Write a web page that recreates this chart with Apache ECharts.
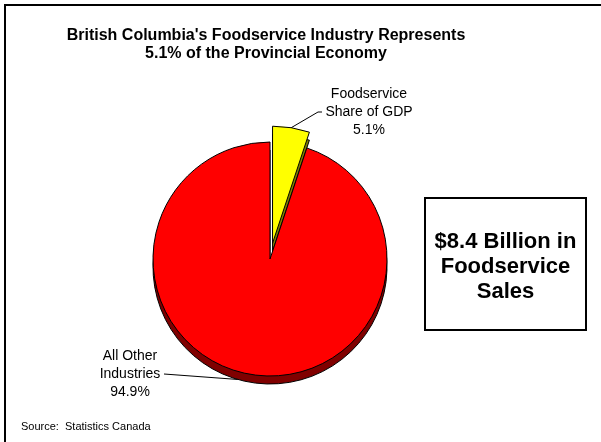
<!DOCTYPE html>
<html>
<head>
<meta charset="utf-8">
<script src="https://cdn.jsdelivr.net/npm/echarts@6/dist/echarts.min.js"></script>
<style>
  html, body { margin: 0; padding: 0; background: #fff; }
  #chart { width: 601px; height: 442px; }
</style>
</head>
<body>
<div id="chart"></div>
<script>
// Share of British Columbia's GDP (percent)
const categories = ['Foodservice\nShare of GDP', 'All Other\nIndustries'];
const shares = [5.1, 94.9];
const topColors = ['#ffff00', '#ff0000'];
const sideColors = ['#7f7f00', '#800000'];
const titleLines = ["British Columbia's Foodservice Industry Represents", '5.1% of the Provincial Economy'];
const calloutLines = ['$8.4 Billion in', 'Foodservice', 'Sales'];
const sourceNote = 'Source:  Statistics Canada';

const FONT = '"Liberation Sans", Arial, sans-serif';
const CX = 270, CY = 259, R = 117, DEPTH = 8, EXPLODE = 16;

function sliceData(colors) {
  return categories.map((name, i) => ({
    name: name,
    value: shares[i],
    selected: i === 0,
    itemStyle: { color: colors[i] }
  }));
}

const chart = echarts.init(document.getElementById('chart'), null, { renderer: 'canvas' });

const staticGraphics = [
  {
    type: 'rect',
    shape: { x: 5, y: 5, width: 700, height: 600 },
    style: { fill: null, stroke: '#000', lineWidth: 2 },
    silent: true,
    z: 100
  },
  {
    type: 'rect',
    shape: { x: 425, y: 198, width: 161, height: 132 },
    style: { fill: '#fff', stroke: '#000', lineWidth: 2 },
    silent: true,
    z: 10
  },
  {
    type: 'text',
    x: 505.5,
    y: 267,
    style: {
      text: calloutLines.join('\n'),
      font: 'bold 22px ' + FONT,
      lineHeight: 25,
      fill: '#000',
      align: 'center',
      verticalAlign: 'middle'
    },
    silent: true,
    z: 11
  },
  {
    type: 'text',
    x: 21,
    y: 427,
    style: {
      text: sourceNote,
      font: '11px ' + FONT,
      fill: '#000',
      align: 'left',
      verticalAlign: 'middle'
    },
    silent: true,
    z: 11
  }
];

chart.setOption({
  animation: false,
  backgroundColor: '#ffffff',
  title: {
    text: titleLines.join('\n'),
    left: 261,
    textAlign: 'center',
    top: 22,
    textStyle: {
      fontFamily: FONT,
      fontSize: 16,
      fontWeight: 'bold',
      color: '#000',
      lineHeight: 18
    }
  },
  graphic: staticGraphics,
  series: [
    {
      // extruded side of the pie
      type: 'pie',
      center: [CX, CY + DEPTH],
      radius: R,
      startAngle: 90,
      clockwise: true,
      selectedMode: 'single',
      selectedOffset: EXPLODE,
      silent: true,
      label: { show: false },
      labelLine: { show: false },
      itemStyle: { borderColor: '#000', borderWidth: 1 },
      emphasis: { disabled: true },
      data: sliceData(sideColors),
      z: 1
    },
    {
      type: 'pie',
      center: [CX, CY],
      radius: R,
      startAngle: 90,
      clockwise: true,
      selectedMode: 'single',
      selectedOffset: EXPLODE,
      silent: true,
      label: { show: false },
      labelLine: { show: false },
      itemStyle: { borderColor: '#000', borderWidth: 1 },
      emphasis: { disabled: true },
      data: sliceData(topColors),
      z: 2
    }
  ]
});

// Callout labels with leader lines, anchored on the sectors laid out by ECharts
const model = chart.getModel();
const topData = model.getSeriesByIndex(1).getData();
const sideData = model.getSeriesByIndex(0).getData();

function rimPoint(layout, frac, explode) {
  const a = layout.startAngle + (layout.endAngle - layout.startAngle) * frac;
  const mid = (layout.startAngle + layout.endAngle) / 2;
  const ox = explode ? EXPLODE * Math.cos(mid) : 0;
  const oy = explode ? EXPLODE * Math.sin(mid) : 0;
  return [layout.cx + ox + layout.r * Math.cos(a), layout.cy + oy + layout.r * Math.sin(a)];
}

const labelStyle = { font: '14px ' + FONT, lineHeight: 18, fill: '#000', align: 'center', verticalAlign: 'middle' };
function labelText(i) {
  return categories[i] + '\n' + shares[i].toFixed(1) + '%';
}

// Foodservice slice: label up and to the right
const fsAnchor = rimPoint(topData.getItemLayout(0), 0.5, true);
const fsLabel = { x: 369, y: 112, halfW: 44 };
// Other industries: label to the lower left, line to the pie's lower rim
const otAnchor = rimPoint(sideData.getItemLayout(1), 0.52, false);
const otLabel = { x: 130, y: 374, halfW: 32 };

chart.setOption({
  graphic: staticGraphics.concat([
    {
      type: 'text', x: fsLabel.x, y: fsLabel.y, silent: true, z: 20,
      style: Object.assign({ text: labelText(0) }, labelStyle)
    },
    {
      type: 'polyline', silent: true, z: 20,
      shape: { points: [fsAnchor, [fsLabel.x - fsLabel.halfW - 7, fsLabel.y], [fsLabel.x - fsLabel.halfW - 3, fsLabel.y]] },
      style: { stroke: '#000', lineWidth: 1, fill: null }
    },
    {
      type: 'text', x: otLabel.x, y: otLabel.y, silent: true, z: 20,
      style: Object.assign({ text: labelText(1) }, labelStyle)
    },
    {
      type: 'polyline', silent: true, z: 20,
      shape: { points: [[otLabel.x + otLabel.halfW + 2, otLabel.y], otAnchor] },
      style: { stroke: '#000', lineWidth: 1, fill: null }
    }
  ])
});
</script>
</body>
</html>
